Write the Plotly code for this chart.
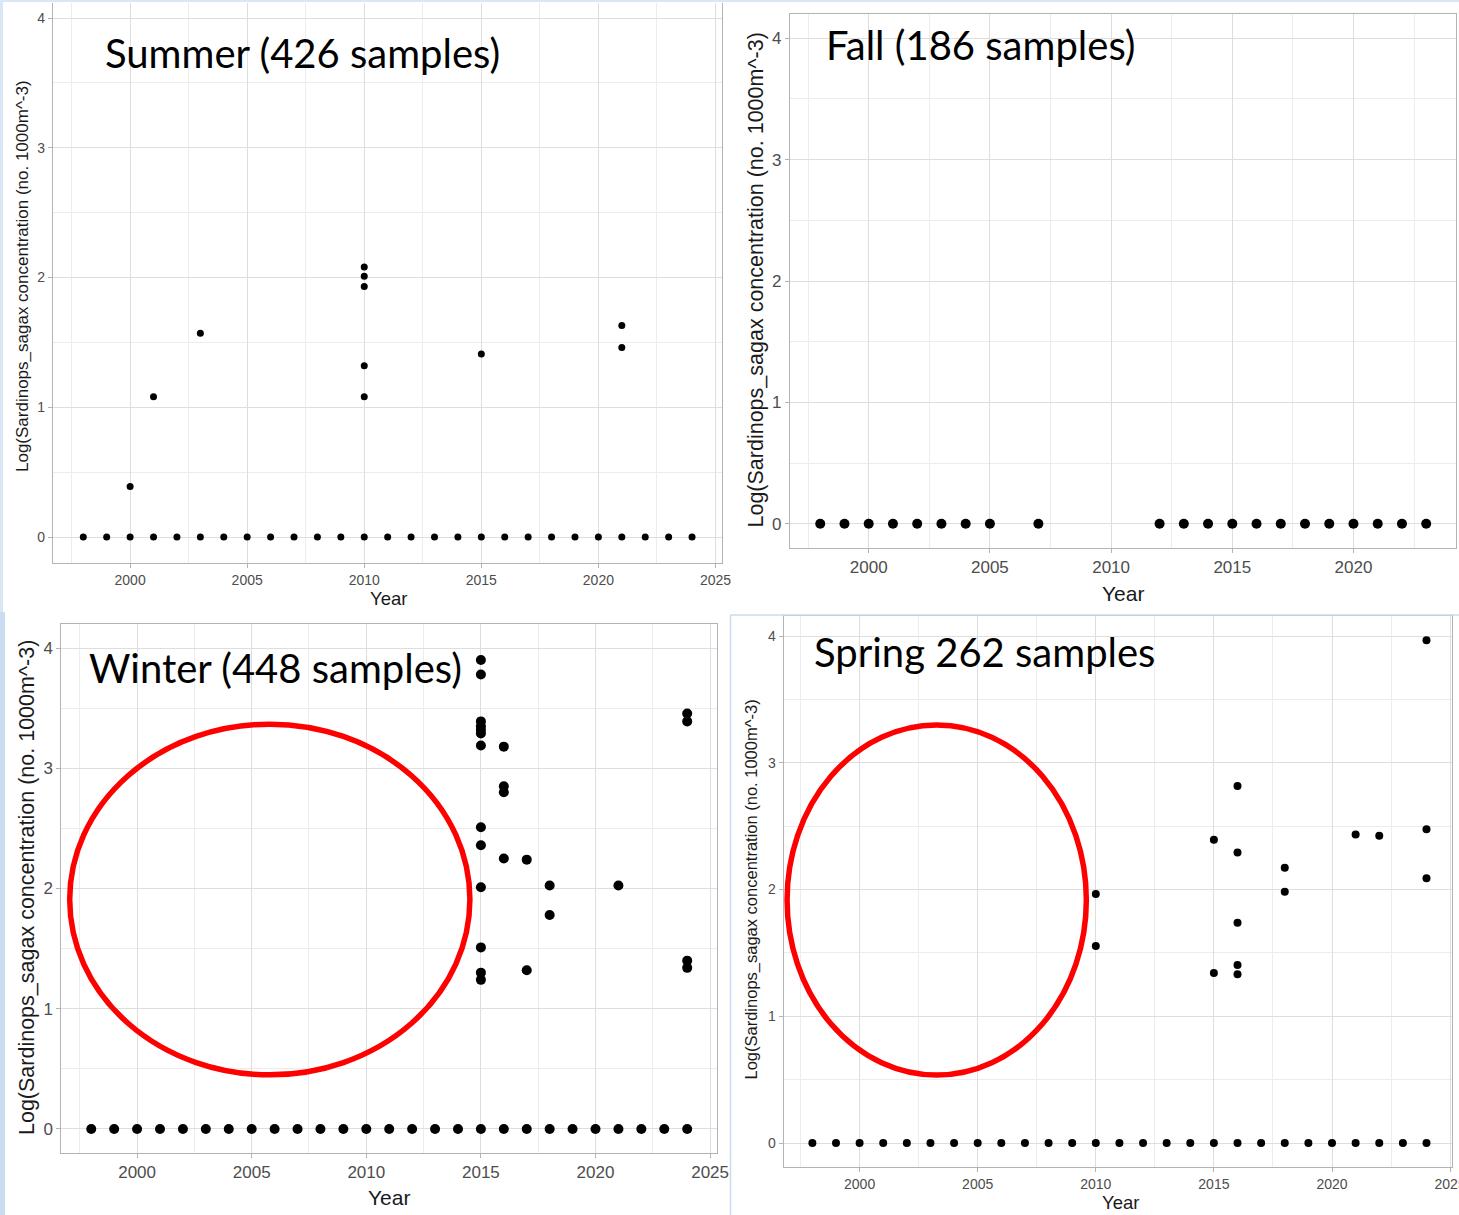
import plotly.graph_objects as go

H = 1215
W = 1459          # reference pixel width (domains are fractions of this)
LAYOUT_W = 1474   # layout width (the photographed page is compressed ~1% horizontally)

# ---------------- data ----------------
summer_zero_years = [1998, 1999, 2000, 2001, 2002, 2003, 2004, 2005, 2006, 2007, 2008, 2009, 2010,
                     2011, 2012, 2013, 2014, 2015, 2016, 2017, 2018, 2019, 2020, 2021, 2022, 2023, 2024]
summer_pos_years = [2000, 2001, 2003, 2010, 2010, 2010, 2010, 2010, 2015, 2021, 2021]
summer_pos_vals = [0.39, 1.08, 1.57, 2.08, 2.01, 1.93, 1.32, 1.08, 1.41, 1.63, 1.46]

fall_zero_years = [1998, 1999, 2000, 2001, 2002, 2003, 2004, 2005, 2007, 2012, 2013, 2014, 2015,
                   2016, 2017, 2018, 2019, 2020, 2021, 2022, 2023]
fall_pos_years = []
fall_pos_vals = []

winter_zero_years = [1998, 1999, 2000, 2001, 2002, 2003, 2004, 2005, 2006, 2007, 2008, 2009, 2010,
                     2011, 2012, 2013, 2014, 2015, 2016, 2017, 2018, 2019, 2020, 2021, 2022, 2023, 2024]
winter_pos_years = [2015, 2015, 2015, 2015, 2015, 2015, 2015, 2015, 2015, 2015, 2015, 2015, 2015,
                    2016, 2016, 2016, 2016, 2017, 2017, 2018, 2018, 2021, 2024, 2024, 2024, 2024]
winter_pos_vals = [3.90, 3.78, 3.39, 3.35, 3.32, 3.29, 3.19, 2.51, 2.36, 2.01, 1.51, 1.30, 1.24,
                   3.18, 2.85, 2.80, 2.25, 2.24, 1.32, 2.025, 1.78, 2.025, 3.455, 3.39, 1.40, 1.34]

spring_zero_years = [1998, 1999, 2000, 2001, 2002, 2003, 2004, 2005, 2006, 2007, 2008, 2009, 2010,
                     2011, 2012, 2013, 2014, 2015, 2016, 2017, 2018, 2019, 2020, 2021, 2022, 2023, 2024]
spring_pos_years = [2010, 2010, 2015, 2015, 2016, 2016, 2016, 2016, 2016, 2018, 2018, 2021, 2022,
                    2024, 2024, 2024]
spring_pos_vals = [1.965, 1.554, 2.393, 1.341, 2.817, 2.293, 1.738, 1.404, 1.331, 2.172, 1.983,
                   2.435, 2.425, 3.966, 2.475, 2.09]

titles = ["Summer (426 samples)", "Fall (186 samples)", "Winter (448 samples)", "Spring 262 samples"]
y_title = "Log(Sardinops_sagax concentration (no. 1000m^-3)"
x_title = "Year"

# ---------------- layout config (pixel geometry) ----------------
panels = [
    dict(zx=summer_zero_years, px=summer_pos_years, pv=summer_pos_vals,
         box=(52.8, 3, 722, 563), xr=[1996.7, 2025.3], yr=[-0.2004, 4.1156], mirror_x=False,
         tick=14, ytitle=17, xtitle=18.5, ms=7,
         title_pos=(103, 53), ytitle_pos=(22, 276), xtitle_pos=(388, 598)),
    dict(zx=fall_zero_years, px=fall_pos_years, pv=fall_pos_vals,
         box=(789.4, 14, 1455.5, 548), xr=[1996.75, 2024.25], yr=[-0.2, 4.2], mirror_x=True,
         tick=17, ytitle=21.5, xtitle=21, ms=10,
         title_pos=(823, 45), ytitle_pos=(755, 280), xtitle_pos=(1122, 593)),
    dict(zx=winter_zero_years, px=winter_pos_years, pv=winter_pos_vals,
         box=(61.4, 624, 716.5, 1153), xr=[1996.7, 2025.3], yr=[-0.2, 4.2], mirror_x=True,
         tick=17, ytitle=21.5, xtitle=21, ms=10,
         title_pos=(87, 668), ytitle_pos=(27, 888), xtitle_pos=(389, 1197)),
    dict(zx=spring_zero_years, px=spring_pos_years, pv=spring_pos_vals,
         box=(783, 616, 1451, 1167), xr=[1996.78, 2025.08], yr=[-0.189, 4.158], mirror_x=True,
         tick=14, ytitle=16.5, xtitle=18.5, ms=8,
         title_pos=(811, 652), ytitle_pos=(750, 890), xtitle_pos=(1120, 1202)),
]

fig = go.Figure()
annotations = []
shapes = []
GRID = "#dedede"
MINOR = "#ececec"
BORDER = "#b3b3b3"
TICKTXT = "#4d4d4d"

for i, p in enumerate(panels):
    idx = "" if i == 0 else str(i + 1)
    x0, y0, x1, y1 = p["box"]
    xs = p["zx"] + p["px"]
    ys = [0] * len(p["zx"]) + p["pv"]
    fig.add_trace(go.Scatter(x=xs, y=ys, mode="markers",
                             marker=dict(color="black", size=p["ms"]),
                             xaxis="x" + idx, yaxis="y" + idx, showlegend=False,
                             hoverinfo="x+y"))
    common = dict(showgrid=True, gridcolor=GRID, gridwidth=1, zeroline=False,
                  showline=True, linecolor=BORDER, linewidth=1,
                  ticks="outside", ticklen=4, tickcolor=BORDER,
                  tickfont=dict(family="Liberation Sans, Arial", size=p["tick"], color=TICKTXT))
    fig.update_layout(**{
        "xaxis" + idx: dict(common, domain=[x0 / W, x1 / W], range=p["xr"], anchor="y" + idx,
                            tick0=2000, dtick=5, mirror=p["mirror_x"],
                            minor=dict(dtick=2.5, tick0=2000, showgrid=True, gridcolor=MINOR, ticks="")),
        "yaxis" + idx: dict(common, domain=[1 - y1 / H, 1 - y0 / H], range=p["yr"], anchor="x" + idx,
                            tick0=0, dtick=1, mirror=True,
                            minor=dict(dtick=0.5, tick0=0, showgrid=True, gridcolor=MINOR, ticks="")),
    })
    tx, ty = p["title_pos"]
    annotations.append(dict(text=titles[i], x=tx / W, y=1 - ty / H, xref="paper", yref="paper",
                            xanchor="left", yanchor="middle", showarrow=False,
                            font=dict(family="Lato", size=40, color="black")))
    yx, yy = p["ytitle_pos"]
    annotations.append(dict(text=y_title, x=yx / W, y=1 - yy / H, xref="paper", yref="paper",
                            xanchor="center", yanchor="middle", showarrow=False, textangle=-90,
                            font=dict(family="Liberation Sans, Arial", size=p["ytitle"], color="#1a1a1a")))
    xx, xy = p["xtitle_pos"]
    annotations.append(dict(text=x_title, x=xx / W, y=1 - xy / H, xref="paper", yref="paper",
                            xanchor="center", yanchor="middle", showarrow=False,
                            font=dict(family="Liberation Sans, Arial", size=p["xtitle"], color="#1a1a1a")))

# red highlight ellipses (winter, spring)
shapes.append(dict(type="circle", xref="x3", yref="y3", x0=1997.06, x1=2014.52, y0=0.45, y1=3.367,
                   line=dict(color="#ff0000", width=5.5), layer="above"))
shapes.append(dict(type="circle", xref="x4", yref="y4", x0=1996.93, x1=2009.60, y0=0.536, y1=3.298,
                   line=dict(color="#ff0000", width=5.5), layer="above"))

# light blue slide background strips
LB = "#d8e7f6"
shapes += [
    dict(type="rect", xref="paper", yref="paper", x0=0, x1=3 / W, y0=1 - 612 / H, y1=1,
         fillcolor=LB, line=dict(width=0), layer="below"),
    dict(type="rect", xref="paper", yref="paper", x0=0, x1=5 / W, y0=0, y1=1 - 612 / H,
         fillcolor="#c9dcf0", line=dict(width=0), layer="below"),
    dict(type="rect", xref="paper", yref="paper", x0=0, x1=1, y0=1 - 2 / H, y1=1,
         fillcolor=LB, line=dict(width=0), layer="below"),
    dict(type="line", xref="paper", yref="paper", x0=730 / W, x1=1, y0=1 - 615 / H, y1=1 - 615 / H,
         line=dict(color="#c9dcf0", width=1.5)),
    dict(type="line", xref="paper", yref="paper", x0=730 / W, x1=730 / W, y0=0, y1=1 - 615 / H,
         line=dict(color="#c9dcf0", width=1.5)),
]

fig.update_layout(width=LAYOUT_W, height=H, margin=dict(l=0, r=0, t=0, b=0),
                  paper_bgcolor="white", plot_bgcolor="white",
                  annotations=annotations, shapes=shapes, showlegend=False)

fig.write_html("out.html")
